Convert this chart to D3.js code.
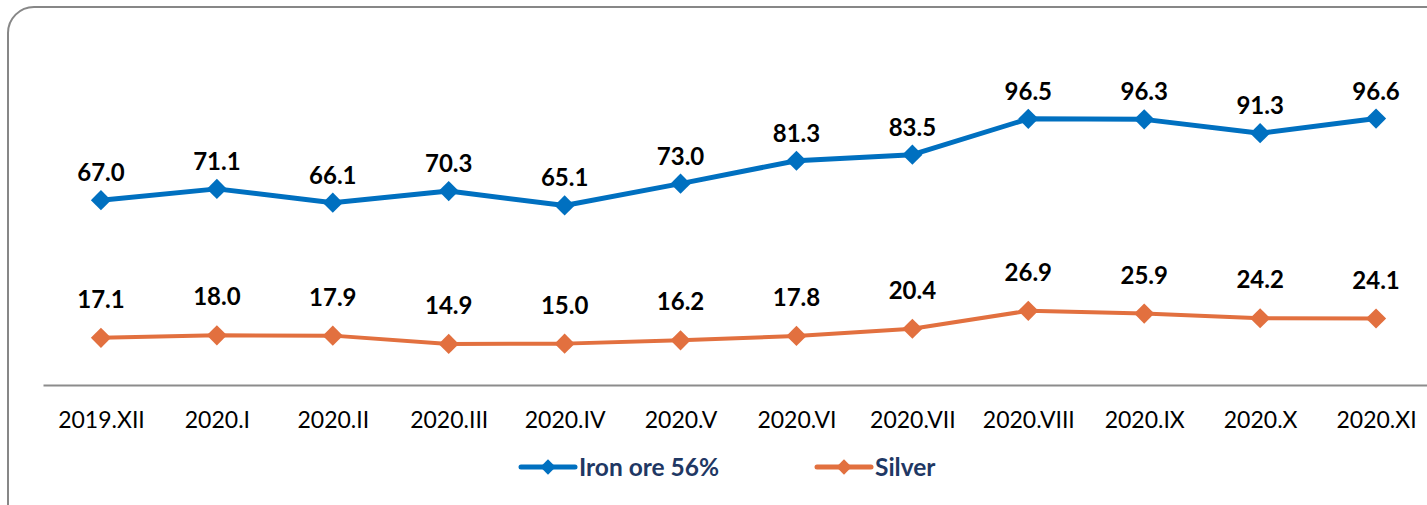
<!DOCTYPE html>
<html>
<head>
<meta charset="utf-8">
<script src="https://cdn.jsdelivr.net/npm/d3@7"></script>
<style>
  body { margin: 0; background: #fff; }
  svg { display: block; font-family: Lato, sans-serif; }
</style>
</head>
<body>
<script>
// chart data
var months = ["2019.XII", "2020.I", "2020.II", "2020.III", "2020.IV", "2020.V",
              "2020.VI", "2020.VII", "2020.VIII", "2020.IX", "2020.X", "2020.XI"];
var ironOre = [67.0, 71.1, 66.1, 70.3, 65.1, 73.0, 81.3, 83.5, 96.5, 96.3, 91.3, 96.6];
var silver = [17.1, 18.0, 17.9, 14.9, 15.0, 16.2, 17.8, 20.4, 26.9, 25.9, 24.2, 24.1];
var seriesNames = ["Iron ore 56%", "Silver"];

var width = 1427, height = 505;
var font = "Lato, sans-serif";

var svg = d3.select("body").append("svg")
    .attr("width", width)
    .attr("height", height);

// rounded frame, cropped at right and bottom
svg.append("rect")
    .attr("x", 8).attr("y", 7)
    .attr("width", 1460).attr("height", 540)
    .attr("rx", 26).attr("ry", 26)
    .attr("fill", "none")
    .attr("stroke", "#878787")
    .attr("stroke-width", 2);

var x = d3.scalePoint().domain(months).range([43, 1434]).padding(0.5);
var y = d3.scaleLinear().domain([0, 120]).range([385, 54]);

// x axis
var xAxis = svg.append("g")
    .attr("transform", "translate(0,385)")
    .call(d3.axisBottom(x).tickSize(0).tickPadding(27));
xAxis.select(".domain").attr("stroke", "#8c8c8c").attr("stroke-width", 2);
xAxis.selectAll("text")
    .style("font-size", "23px")
    .style("font-family", font)
    .style("font-weight", "400")
    .attr("fill", "#000");

var series = [
  {name: seriesNames[0], values: ironOre, color: "#0070C0", width: 5, labelDy: -19},
  {name: seriesNames[1], values: silver, color: "#E2703F", width: 4, labelDy: -30}
];

var diamond = d3.symbol().type(d3.symbolDiamond2).size(260);

series.forEach(function(s) {
  var line = d3.line()
      .x(function(d, i) { return x(months[i]); })
      .y(function(d) { return y(d); });

  svg.append("path")
      .datum(s.values)
      .attr("d", line)
      .attr("fill", "none")
      .attr("stroke", s.color)
      .attr("stroke-width", s.width)
      .attr("stroke-linejoin", "round");

  svg.selectAll(null)
      .data(s.values)
      .enter().append("path")
      .attr("d", diamond)
      .attr("transform", function(d, i) { return "translate(" + x(months[i]) + "," + y(d) + ")"; })
      .attr("fill", s.color);

  svg.selectAll(null)
      .data(s.values)
      .enter().append("text")
      .attr("x", function(d, i) { return x(months[i]); })
      .attr("y", function(d) { return y(d) + s.labelDy; })
      .attr("text-anchor", "middle")
      .style("font-size", "24px")
      .style("font-weight", "bold")
      .attr("fill", "#000")
      .text(function(d) { return d.toFixed(1); });
});

// legend
var legendX = [521, 817];
series.forEach(function(s, i) {
  var g = svg.append("g").attr("transform", "translate(" + legendX[i] + ",467)");
  g.append("line")
      .attr("x1", 0).attr("x2", 54)
      .attr("stroke", s.color)
      .attr("stroke-width", 5)
      .attr("stroke-linecap", "round");
  g.append("path")
      .attr("d", d3.symbol().type(d3.symbolDiamond2).size(150))
      .attr("transform", "translate(27,0)")
      .attr("fill", s.color);
  g.append("text")
      .attr("x", 58).attr("y", 9)
      .style("font-size", "24.5px")
      .style("font-weight", "bold")
      .attr("fill", "#1F3864")
      .text(s.name);
});
</script>
</body>
</html>
